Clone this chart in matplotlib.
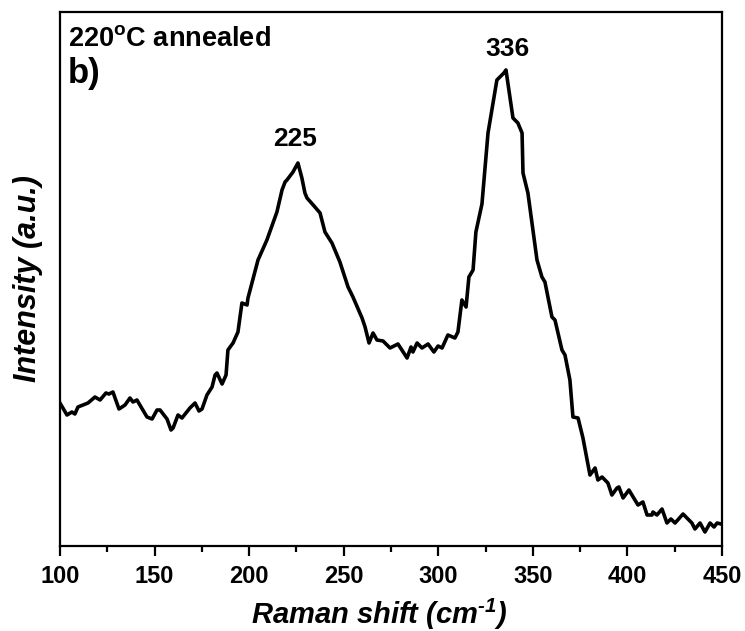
import matplotlib
matplotlib.use("Agg")
import matplotlib.pyplot as plt
from matplotlib.ticker import MultipleLocator

plt.rcParams["font.family"] = "Liberation Sans"
plt.rcParams["font.weight"] = "bold"
plt.rcParams["mathtext.default"] = "regular"

# Raman spectrum, 220 C annealed sample
shift = [100.0, 103.7, 106.3, 107.9, 109.5, 112.2, 114.8, 118.5, 121.2, 124.3,
         125.9, 128.0, 131.2, 134.4, 137.0, 138.6, 140.7, 146.0, 148.7, 151.3,
         152.9, 156.6, 158.7, 159.8, 162.4, 164.5, 168.7, 171.4, 173.5, 175.1,
         177.7, 180.4, 182.0, 183.0, 185.7, 187.8, 188.8, 191.5, 194.1, 196.2,
         198.9, 199.4, 204.7, 209.4, 214.7, 217.4, 219.0, 220.0, 223.2, 225.8,
         227.9, 229.5, 230.6, 234.8, 237.5, 240.1, 243.8, 248.0, 252.3, 254.9,
         259.7, 261.3, 263.4, 265.5, 267.6, 270.8, 274.5, 278.7, 283.5, 285.6,
         286.6, 288.8, 291.4, 294.6, 297.7, 299.9, 302.0, 305.1, 308.8, 310.4,
         312.5, 314.7, 316.2, 318.4, 319.9, 323.1, 326.3, 331.0, 332.6, 334.7,
         335.8, 339.5, 342.1, 344.3, 344.8, 347.4, 352.2, 354.8, 356.4, 360.1,
         361.7, 365.4, 367.0, 369.6, 371.2, 373.9, 376.5, 380.2, 382.9, 384.4,
         386.6, 389.7, 391.8, 394.5, 395.5, 397.7, 400.8, 404.0, 405.6, 408.2,
         410.4, 413.0, 413.5, 415.6, 418.3, 420.9, 423.0, 425.2, 429.4, 434.1,
         435.7, 438.4, 441.0, 443.7, 445.8, 447.4, 449.5]
intensity = [143, 131, 134, 132, 139, 141, 143, 149, 146, 153,
             152, 154, 137, 141, 148, 144, 146, 129, 127, 136,
             136, 127, 116, 118, 131, 128, 138, 143, 135, 137,
             151, 159, 171, 173, 162, 171, 196, 203, 214, 243,
             241, 248, 286, 306, 334, 356, 364, 366, 374, 383,
             368, 353, 348, 339, 333, 314, 303, 284, 259, 249,
             228, 219, 203, 213, 206, 205, 198, 202, 188, 199,
             194, 203, 198, 202, 194, 200, 198, 211, 208, 214,
             246, 239, 269, 276, 314, 342, 413, 466, 469, 473,
             476, 428, 423, 413, 373, 353, 286, 269, 264, 229,
             226, 196, 191, 166, 129, 128, 108, 71, 78, 66,
             69, 63, 51, 58, 59, 48, 56, 46, 41, 44,
             31, 31, 34, 31, 37, 23, 27, 23, 32, 23,
             17, 23, 14, 23, 19, 23, 22]

peak_pos = [224.5, 336.4]
peak_lbl = ["225", "336"]
peak_y = [407, 497]

fig = plt.figure(figsize=(7.45, 6.31), dpi=100)
ax = fig.add_axes([0.0805, 0.1347, 0.8886, 0.8463])

ax.plot(shift, intensity, color="black", lw=2.6, solid_joinstyle="round")

for xp, lbl, yp in zip(peak_pos, peak_lbl, peak_y):
    ax.text(xp, yp, lbl, ha="center", va="center", fontsize=19, fontweight="bold")

ax.text(0.012, 0.936, "220$^{o}$C annealed", transform=ax.transAxes,
        fontsize=19.5, fontweight="bold", va="baseline", ha="left")
ax.text(0.012, 0.867, "b)", transform=ax.transAxes,
        fontsize=25, fontweight="bold", va="baseline", ha="left")

ax.set_xlim(100, 450)
ax.set_ylim(0, 534)
ax.xaxis.set_major_locator(MultipleLocator(50))
ax.xaxis.set_minor_locator(MultipleLocator(25))
ax.tick_params(axis="x", which="major", direction="out", length=7, width=1.6,
               labelsize=17, pad=7)
ax.tick_params(axis="x", which="minor", direction="out", length=4, width=1.6)
ax.set_yticks([])
for s in ax.spines.values():
    s.set_linewidth(1.6)

ax.set_xlabel("Raman shift (cm$^{\u20101}$)", fontsize=21, fontweight="bold",
              fontstyle="italic")
ax.xaxis.set_label_coords(0.482, -0.095)
ax.set_ylabel("Intensity (a.u.)", fontsize=22, fontweight="bold",
              fontstyle="italic", labelpad=12)

fig.savefig("out.png", dpi=100)
